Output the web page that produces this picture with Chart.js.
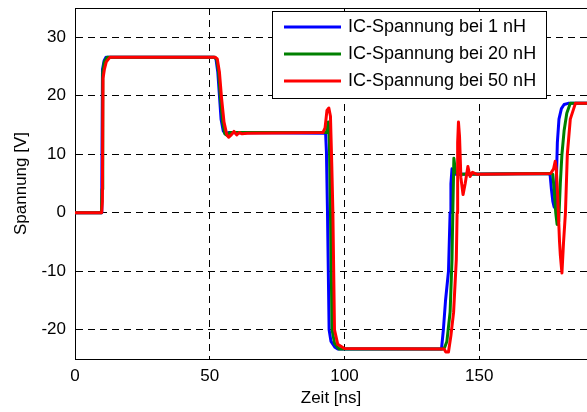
<!DOCTYPE html>
<html>
<head>
<meta charset="utf-8">
<script src="https://cdn.jsdelivr.net/npm/chart.js@4.4.0/dist/chart.umd.min.js"></script>
<style>
  body { margin: 0; background: #fff; overflow: hidden; }
</style>
</head>
<body>
<canvas id="myChart" width="587" height="412"></canvas>
<script>
// time [ns] and voltage [V], one pair per inductance
const t1 = [0, 9.7, 9.95, 10.2, 10.8, 11.5, 51.5, 52.3, 53, 53.6, 54.2, 55, 55.8, 57, 93.0, 93.3, 93.7, 94.3, 95, 96.5, 97.5, 136, 136.7, 137.5, 138.6, 139.2, 139.5, 139.9, 140.4, 175.5, 176.3, 176.8, 177.3, 177.8, 178.2, 178.6, 179, 179.6, 180.5, 181.5, 183, 190];
const v1 = [0, 0, 5, 24.5, 26, 26.6, 26.6, 26.3, 24, 20, 16, 14, 13.5, 13.7, 13.6, 10.5, 0, -20, -22, -23, -23.3, -23.3, -20, -15, -10, 0, 5, 7.5, 6.6, 6.7, 6.5, 4, 2, 1, 0.8, 5, 12, 16, 17.8, 18.5, 18.7, 18.7];

const t20 = [0, 9.8, 10.05, 10.3, 10.9, 12, 51.8, 52.6, 53.3, 54, 54.8, 55.6, 56.5, 57.5, 93.3, 94.0, 94.4, 94.8, 95.4, 96.3, 98, 136.5, 137.2, 138, 139.2, 139.9, 140.2, 140.6, 141.2, 142, 176, 177.3, 177.8, 178.4, 178.9, 179.5, 180.1, 180.7, 181.5, 182.5, 183.8, 190];
const v20 = [0, 0, 4, 24, 25.8, 26.6, 26.6, 26.2, 24, 19.5, 15.5, 13.5, 13.2, 13.7, 13.7, 15.5, 12, 0, -20, -22.3, -23.3, -23.3, -23, -22, -17, -8, 0, 9.3, 7, 6.6, 6.7, 6.6, 4, 0, -2, -1.5, 5, 10, 14, 17, 18.7, 18.7];

const t50 = [0, 9.9, 10.15, 10.4, 10.9, 11.6, 13, 52.0, 52.8, 53.6, 54.4, 55.3, 56.3, 57, 58, 59, 60, 61, 62, 64, 92.0, 92.8, 93.5, 94.2, 94.8, 95.3, 95.7, 96.3, 97.5, 100, 137, 137.6, 138.6, 139.5, 140.5, 141.5, 141.8, 142.0, 142.3, 142.7, 143.2, 144, 144.8, 145.8, 146.6, 147.5, 149, 176.5, 177.6, 178.2, 178.6, 179.1, 179.8, 180.1, 180.7, 181.3, 182, 182.7, 183.8, 185.7, 190];
const v50 = [0, 0, 2, 23, 24.5, 25.8, 26.6, 26.6, 26.3, 24, 19.5, 15.5, 13.4, 12.9, 13.3, 13.9, 13.3, 13.7, 13.5, 13.6, 13.7, 14.5, 17.5, 17.9, 16.5, 8, 0, -20, -22.5, -23.2, -23.3, -23.8, -23.8, -21, -17, -8, 0, 12, 15.5, 13, 6, 3.1, 5, 7.9, 6.2, 6.9, 6.6, 6.7, 7.5, 8.8, 7.5, 3.1, -4.9, -7.2, -10.3, -5, 0, 10, 16, 18.7, 18.7];

const labels = ['IC-Spannung bei 1 nH', 'IC-Spannung bei 20 nH', 'IC-Spannung bei 50 nH'];
const colors = ['#0000ff', '#008000', '#ff0000'];
const xTicks = [0, 50, 100, 150];
const yTicks = [-20, -10, 0, 10, 20, 30];

const FONT = "'Liberation Sans', Arial, sans-serif";

const toPoints = (ts, vs) => ts.map((t, i) => ({ x: t, y: vs[i] }));

// MATLAB style box legend + top frame line
const legendBox = {
    id: 'legendBox',
    afterDraw(chart) {
        const ctx = chart.ctx;
        const area = chart.chartArea;
        ctx.save();
        ctx.strokeStyle = '#000';
        ctx.lineWidth = 1;
        ctx.beginPath();
        ctx.moveTo(area.left, Math.round(area.top) + 0.5);
        ctx.lineTo(area.right, Math.round(area.top) + 0.5);
        ctx.stroke();

        ctx.fillStyle = '#fff';
        ctx.fillRect(272.5, 11.5, 274, 87);
        ctx.strokeRect(272.5, 11.5, 274, 87);

        ctx.font = '18px ' + FONT;
        ctx.textBaseline = 'middle';
        chart.data.datasets.forEach((ds, i) => {
            const y = 27 + i * 27;
            ctx.strokeStyle = ds.borderColor;
            ctx.lineWidth = 3;
            ctx.beginPath();
            ctx.moveTo(284, y);
            ctx.lineTo(341, y);
            ctx.stroke();
            ctx.fillStyle = '#000';
            ctx.fillText(ds.label, 348, y);
        });
        ctx.restore();
    }
};

const noPad = (s) => { s.paddingTop = 0; s.paddingBottom = 0; s.paddingLeft = 0; s.paddingRight = 0; };

const series = [toPoints(t1, v1), toPoints(t20, v20), toPoints(t50, v50)];

new Chart(document.querySelector('#myChart'), {
    type: 'line',
    data: {
        datasets: series.map((pts, i) => ({
            label: labels[i],
            data: pts,
            borderColor: colors[i],
            borderWidth: 3,
            pointRadius: 0,
            tension: 0,
            borderJoinStyle: 'round',
            order: 3 - i
        }))
    },
    options: {
        responsive: false,
        animation: false,
        layout: { padding: { top: 8, right: 0, bottom: 0, left: 0 } },
        plugins: { legend: { display: false }, tooltip: { enabled: false } },
        scales: {
            x: {
                type: 'linear',
                min: 0,
                max: 190,
                afterFit: (s) => { s.height = 53; noPad(s); },
                afterBuildTicks: (s) => { s.ticks = xTicks.map(v => ({ value: v })); },
                ticks: { color: '#000', padding: 7, maxRotation: 0, font: { family: FONT, size: 17 } },
                grid: { color: '#000', drawTicks: false, lineWidth: 1 },
                border: { color: '#000', width: 1, dash: [7, 5] },
                title: { display: true, text: 'Zeit [ns]', color: '#000', padding: { top: 0, bottom: 3 }, font: { family: FONT, size: 17 } }
            },
            y: {
                min: -25,
                max: 35,
                afterFit: (s) => { s.width = 75; noPad(s); },
                afterBuildTicks: (s) => { s.ticks = yTicks.map(v => ({ value: v })); },
                ticks: { color: '#000', padding: 9, font: { family: FONT, size: 17 } },
                grid: { color: '#000', drawTicks: false, lineWidth: 1 },
                border: { color: '#000', width: 1, dash: [7, 5] },
                title: { display: true, text: 'Spannung [V]', color: '#000', padding: { top: 11, bottom: 0 }, font: { family: FONT, size: 17 } }
            }
        }
    },
    plugins: [legendBox]
});
</script>
</body>
</html>
